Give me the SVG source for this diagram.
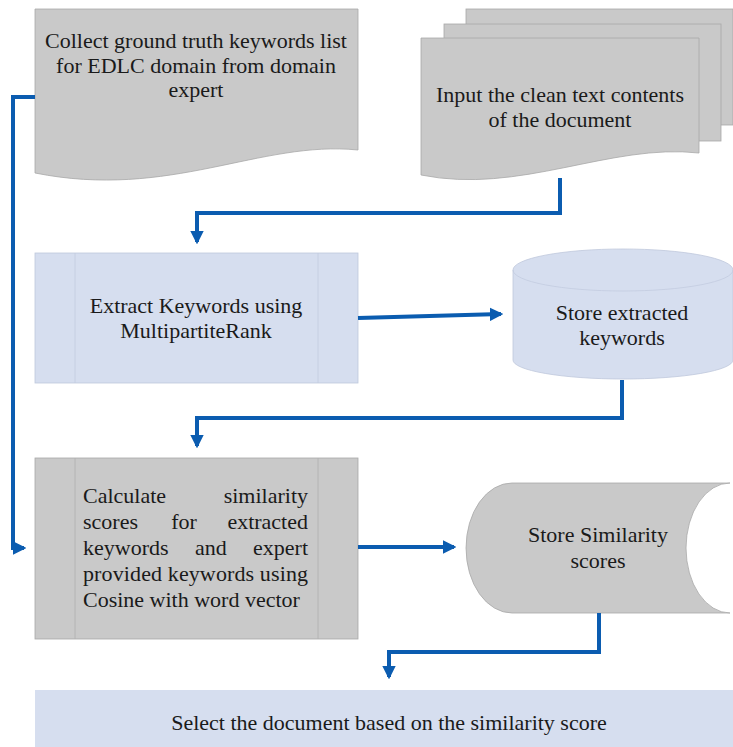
<svg xmlns="http://www.w3.org/2000/svg" width="733" height="747" viewBox="0 0 733 747">
<style>
.g{fill:#c9c9c9;stroke:#a8a8a8;stroke-width:0.8}
.b{fill:#d6deef;stroke:#bfc8dc;stroke-width:0.8}
.in{stroke:#b0b0b0;stroke-width:0.8;fill:none}
.inb{stroke:#c3cbe0;stroke-width:0.8;fill:none}
.t{font-family:"Liberation Serif","Times New Roman",serif;font-size:22px;fill:#1a1a1a}
.c{stroke:#0b5cb0;stroke-width:4;fill:none}
.ah{fill:#0b5cb0}
</style>
<defs>
<marker id="arr" markerWidth="3.4" markerHeight="3.4" refX="2.8" refY="1.7" orient="auto" markerUnits="strokeWidth">
<path d="M0,0 L3.4,1.7 L0,3.4 Z" class="ah"/>
</marker>
</defs>
<g id="collect">
<path class="g" d="M35,9 H358 V150 C260,140 170,200 35,173 Z"/>
<text class="t" text-anchor="middle" x="196" y="48">Collect ground truth keywords list</text>
<text class="t" text-anchor="middle" x="196" y="73">for EDLC domain from domain</text>
<text class="t" text-anchor="middle" x="196" y="97">expert</text>
</g>
<g id="input">
<rect class="g" x="466" y="9" width="267" height="116"/>
<rect class="g" x="444" y="24" width="277" height="117"/>
<path class="g" d="M421,38 H699 V153 C610,143 520,195 421,175 Z"/>
<text class="t" text-anchor="middle" x="560" y="102">Input the clean text contents</text>
<text class="t" text-anchor="middle" x="560" y="127">of the document</text>
</g>
<g id="extract">
<rect class="b" x="35" y="253" width="323" height="130"/>
<line class="inb" x1="75" y1="253" x2="75" y2="383"/>
<line class="inb" x1="318" y1="253" x2="318" y2="383"/>
<text class="t" text-anchor="middle" x="196" y="313">Extract Keywords using</text>
<text class="t" text-anchor="middle" x="196" y="338">MultipartiteRank</text>
</g>
<g id="store-keywords">
<path class="b" d="M513,270 V360 A110,19 0 0 0 733,360 V270 A110,21 0 0 0 513,270 Z"/>
<path class="inb" d="M513,270 A110,21 0 0 0 733,270"/>
<text class="t" text-anchor="middle" x="622" y="320">Store extracted</text>
<text class="t" text-anchor="middle" x="622" y="345">keywords</text>
</g>
<g id="calculate">
<rect class="g" x="35" y="458" width="323" height="181"/>
<line class="in" x1="75" y1="458" x2="75" y2="639"/>
<line class="in" x1="318" y1="458" x2="318" y2="639"/>
<text class="t" x="83" y="503">Calculate</text>
<text class="t" x="308" y="503" text-anchor="end">similarity</text>
<text class="t" x="83" y="529">scores</text>
<text class="t" x="184" y="529" text-anchor="middle">for</text>
<text class="t" x="308" y="529" text-anchor="end">extracted</text>
<text class="t" x="83" y="555">keywords</text>
<text class="t" x="211" y="555" text-anchor="middle">and</text>
<text class="t" x="308" y="555" text-anchor="end">expert</text>
<text class="t" x="83" y="581" textLength="225" lengthAdjust="spacing">provided keywords using</text>
<text class="t" x="83" y="607">Cosine with word vector</text>
</g>
<g id="store-similarity">
<path class="g" d="M512,483 H730 A44,65 0 0 0 730,613 H512 A46,65 0 0 1 512,483 Z"/>
<text class="t" text-anchor="middle" x="598" y="542">Store Similarity</text>
<text class="t" text-anchor="middle" x="598" y="568">scores</text>
</g>
<g id="select">
<rect fill="#d6deef" x="35" y="690" width="698" height="57"/>
<text class="t" text-anchor="middle" x="389" y="730">Select the document based on the similarity score</text>
</g>
<g id="connectors">
<path class="c" d="M560,178 V213 H197 V242" marker-end="url(#arr)"/>
<path class="c" d="M35,97 H13 V548 H24" marker-end="url(#arr)"/>
<path class="c" d="M358,318 L501,314" marker-end="url(#arr)"/>
<path class="c" d="M622,380 V418 H197 V446" marker-end="url(#arr)"/>
<path class="c" d="M358,547 H454" marker-end="url(#arr)"/>
<path class="c" d="M599,613 V652 H389 V677" marker-end="url(#arr)"/>
</g>
</svg>
